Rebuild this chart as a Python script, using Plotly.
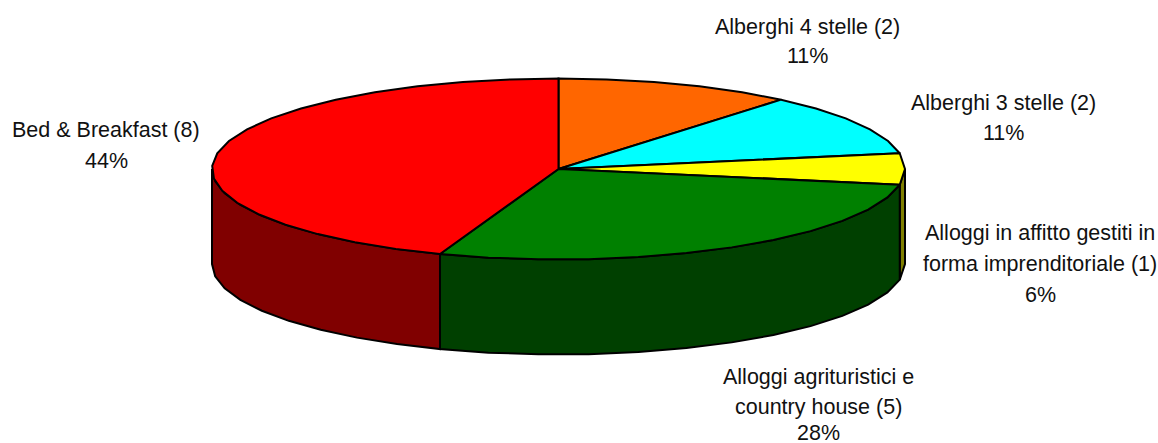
import numpy as np
import plotly.graph_objects as go

categories = ["Alberghi 4 stelle", "Alberghi 3 stelle",
              "Alloggi in affitto gestiti in forma imprenditoriale",
              "Alloggi agrituristici e country house", "Bed & Breakfast"]
counts = [2, 2, 1, 5, 8]
top_colors = ["#FF6600", "#00FFFF", "#FFFF00", "#008000", "#FF0000"]
side_colors = ["#803300", "#008080", "#808000", "#004000", "#800000"]
label_lines = [
    ["Alberghi 4 stelle (2)", "11%"],
    ["Alberghi 3 stelle (2)", "11%"],
    ["Alloggi in affitto gestiti in", "forma imprenditoriale (1)", "6%"],
    ["Alloggi agrituristici e", "country house (5)", "28%"],
    ["Bed & Breakfast (8)", "44%"],
]
label_x = [807, 1003, 1040, 818, 106]
label_y = [[27, 56], [103, 133], [233, 264, 295], [377, 407, 433], [130, 161]]

CX, CY, RX, RY, DEPTH = 558.5, 169, 346.5, 90.5, 95
STEP = 8.0

def arc(a0, a1, dy=0.0):
    n = max(2, int(round((a1 - a0) / STEP)) + 1)
    t = np.radians(np.linspace(a0, a1, n))
    return CX + RX * np.sin(t), CY - RY * np.cos(t) + dy

fig = go.Figure()
line = dict(color="black", width=2)
edges = np.concatenate([[0], np.cumsum(counts)]) / sum(counts) * 360

# side walls (only the front half of the rim is visible)
for i in range(len(counts)):
    a0, a1 = max(edges[i], 90), min(edges[i + 1], 270)
    if a1 <= a0:
        continue
    x1, y1 = arc(a0, a1)
    x2, y2 = arc(a0, a1, DEPTH)
    fig.add_trace(go.Scatter(
        x=np.concatenate([x1, x2[::-1], x1[:1]]),
        y=np.concatenate([y1, y2[::-1], y1[:1]]),
        mode="lines", fill="toself", fillcolor=side_colors[i],
        line=line, hoverinfo="skip"))

# top faces
for i in range(len(counts)):
    x1, y1 = arc(edges[i], edges[i + 1])
    fig.add_trace(go.Scatter(
        x=np.concatenate([[CX], x1, [CX]]),
        y=np.concatenate([[CY], y1, [CY]]),
        mode="lines", fill="toself", fillcolor=top_colors[i],
        line=line, hoverinfo="skip"))

for lines, x, ys in zip(label_lines, label_x, label_y):
    for txt, y in zip(lines, ys):
        fig.add_annotation(x=x, y=y, text=txt, showarrow=False,
                           xanchor="center", yanchor="middle",
                           font=dict(family="Liberation Sans", size=21.5, color="#111111"))

fig.update_layout(
    width=1158, height=443, margin=dict(l=0, r=0, t=0, b=0),
    paper_bgcolor="white", plot_bgcolor="white", showlegend=False,
    xaxis=dict(range=[0, 1158], visible=False, fixedrange=True),
    yaxis=dict(range=[443, 0], visible=False, fixedrange=True),
)
fig.write_html("out.html", config={"displayModeBar": False},
               post_script="document.body.style.margin='0';document.body.style.overflow='hidden';")
